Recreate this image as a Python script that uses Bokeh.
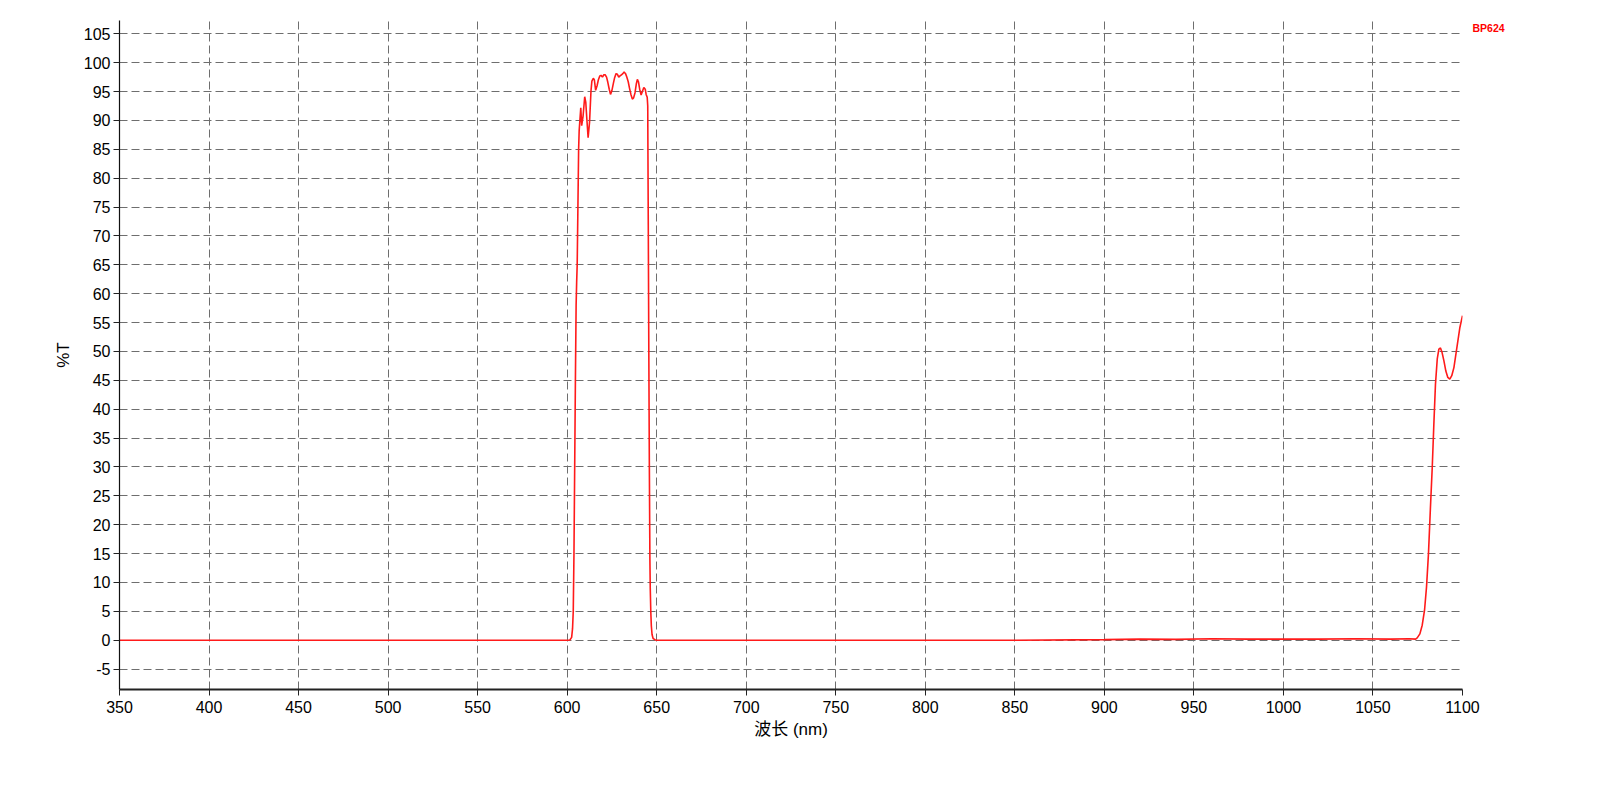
from bokeh.plotting import figure
from bokeh.models import Range1d, FixedTicker, LinearAxis
from bokeh.embed import file_html
from bokeh.resources import INLINE

# Wavelength (nm) and transmittance (%T)
wavelength = [350, 450, 550, 600, 601.5, 602.5, 603.0, 603.4, 603.8, 604.2, 604.6, 605.0,
              605.3, 605.6, 606.0, 606.4, 606.7, 607.6, 608.1, 608.9, 609.8, 610.4, 611.0,
              611.7, 612.5, 613.3, 613.8, 614.6, 615.2, 615.9, 616.7, 617.4, 618.2, 618.9,
              619.7, 620.5, 621.2, 622.0, 622.7, 623.5, 624.2, 625.0, 625.8, 626.5, 627.3,
              628.0, 628.8, 629.5, 630.3, 631.1, 631.8, 632.6, 633.3, 634.1, 634.8, 635.6,
              636.4, 637.1, 637.9, 638.6, 639.2, 639.8, 640.5, 641.3, 642.0, 642.8, 643.6,
              644.1, 644.7, 645.0, 645.1, 645.3, 645.6, 645.9, 646.2, 646.4, 646.7, 647.0,
              647.4, 648.0, 649.0, 650.0, 750, 850, 900, 920, 940, 960, 980, 1000, 1020,
              1040, 1060, 1070, 1073.8, 1074.7, 1076.2, 1077.5, 1078.8, 1079.9, 1081.0,
              1082.1, 1083.1, 1084.0, 1084.9, 1085.9, 1086.8, 1087.7, 1088.6, 1089.6,
              1090.7, 1091.8, 1092.9, 1094.0, 1095.2, 1096.3, 1097.4, 1098.5, 1100]
transmittance = [0, 0, 0, 0, 0.05, 0.5, 2, 5, 15, 30, 45, 58,
                 62, 65, 75, 85, 88.2, 92.2, 89.1, 90.8, 94.1, 93.1, 90.2,
                 87.0, 89.7, 95.1, 96.8, 97.3, 97.0, 95.2, 96.0, 97.0, 97.7, 97.8,
                 97.5, 97.9, 97.9, 97.5, 96.6, 95.4, 94.5, 95.2, 96.4, 97.4, 98.1,
                 98.0, 97.5, 97.7, 97.9, 98.1, 98.4, 98.1, 97.5, 96.7, 95.6, 94.5,
                 93.7, 93.9, 94.8, 96.3, 97.1, 96.7, 95.4, 94.4, 95.0, 95.7, 95.4,
                 94.5, 94.0, 92.5, 85, 72, 50, 30, 14, 9, 5, 2.5,
                 1, 0.3, 0.1, 0, 0, 0, 0.1, 0.2, 0.15, 0.25, 0.2, 0.2, 0.2,
                 0.25, 0.2, 0.25, 0.2, 0.4, 1.1, 2.6, 5.2, 9.2, 15.0,
                 23.0, 29.9, 37.4, 44.3, 48.7, 50.4, 50.6, 49.8, 48.4,
                 46.6, 45.5, 45.2, 45.8, 47.2, 49.5, 51.8, 54.1, 56.2]

x_ticks = list(range(350, 1101, 50))
y_ticks = list(range(-5, 106, 5))
y_tick_labels = {t: str(t) for t in y_ticks}
x_title = "波长 (nm)"
y_title = "%T"
tag = "BP624"
tag_level = 106.05

FONT = "Liberation Sans, Noto Sans CJK SC"

p = figure(width=1584, height=788, output_backend="svg", toolbar_location=None,
           x_range=Range1d(350, 1100), y_range=Range1d(-8.53, 107.3),
           min_border_left=119, min_border_right=122, min_border_top=20,
           min_border_bottom=99)
p.outline_line_color = None
p.background_fill_color = "white"

p.line(wavelength, transmittance, line_color="#ff1a1a", line_width=1.6)

for ax, ticks in ((p.xaxis, x_ticks), (p.yaxis, y_ticks)):
    ax.ticker = FixedTicker(ticks=ticks)
    ax.minor_tick_line_color = None
    ax.major_tick_in = 0
    ax.major_tick_out = 6
    ax.major_tick_line_color = "#222222"
    ax.major_label_text_font = FONT
    ax.major_label_text_font_size = "16px"
    ax.major_label_text_color = "black"
    ax.axis_label_text_font = FONT
    ax.axis_label_text_font_size = "17px"
    ax.axis_label_text_font_style = "normal"
    ax.axis_label_text_color = "black"

p.yaxis.major_label_overrides = y_tick_labels
p.xaxis.axis_label = x_title
p.yaxis.axis_label = y_title
p.xaxis.axis_line_width = 2
p.xaxis.axis_line_color = "#222222"
p.yaxis.axis_line_width = 1.2
p.yaxis.axis_line_color = "#111111"
p.xaxis.major_label_standoff = 5
p.yaxis.major_label_standoff = 3
p.xaxis.axis_label_standoff = 4
p.yaxis.axis_label_standoff = 8

for g in (p.xgrid, p.ygrid):
    g.grid_line_color = "#6e6e6e"
    g.grid_line_dash = "8 4"
    g.grid_line_width = 1
p.xgrid.ticker = FixedTicker(ticks=x_ticks)
p.ygrid.ticker = FixedTicker(ticks=y_ticks)

# Red tag to the right of the plot area, drawn as a right-side axis label
tag_axis = LinearAxis(ticker=FixedTicker(ticks=[tag_level]),
                      major_label_overrides={tag_level: tag})
tag_axis.axis_line_color = None
tag_axis.major_tick_line_color = None
tag_axis.minor_tick_line_color = None
tag_axis.major_tick_out = 0
tag_axis.major_tick_in = 0
tag_axis.major_label_standoff = 10
tag_axis.major_label_text_color = "red"
tag_axis.major_label_text_font = FONT
tag_axis.major_label_text_font_size = "10.5px"
tag_axis.major_label_text_font_style = "bold"
p.add_layout(tag_axis, "right")

open("out.html", "w").write(file_html(p, INLINE))
